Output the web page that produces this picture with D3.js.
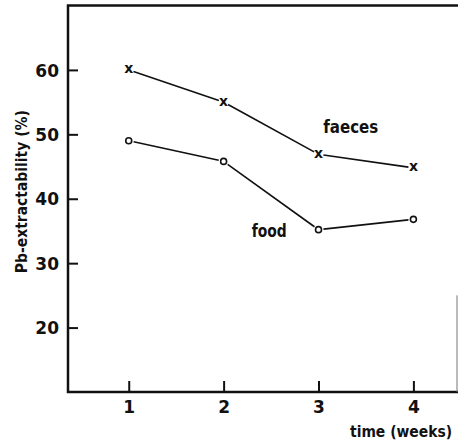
<!DOCTYPE html>
<html>
<head>
<meta charset="utf-8">
<script src="https://cdn.jsdelivr.net/npm/d3@7"></script>
<style>
  body { margin: 0; background: #fff; }
  text { font-family: "DejaVu Sans", sans-serif; font-weight: bold; fill: #111; }
</style>
</head>
<body>
<svg></svg>
<script>
// data
var weeks = [1, 2, 3, 4];
var faeces = [60, 55, 46.9, 44.8];
var food = [49, 45.8, 35.2, 36.8];
var yTicks = [20, 30, 40, 50, 60];
var xTicks = [1, 2, 3, 4];

function drawChart() {
    var svgWidth = 459, svgHeight = 444;
    var svg = d3.select('svg').attr("width", svgWidth).attr("height", svgHeight);

    var x = d3.scaleLinear().domain([0.36, 4.47]).range([68, 458]);
    var y = d3.scaleLinear().domain([10, 70]).range([392, 5.5]);

    // left axis, ticks pointing inward
    var yAxis = svg.append("g")
        .attr("transform", "translate(" + x(0.36) + ",0)")
        .call(d3.axisRight(y).tickValues(yTicks).tickSize(10).tickFormat(d3.format("d")));
    yAxis.select(".domain").remove();
    yAxis.selectAll("line").attr("stroke", "#111").attr("stroke-width", 2);
    yAxis.selectAll("text")
        .attr("x", -9)
        .attr("text-anchor", "end")
        .attr("dy", "0.36em")
        .style("font-size", "17px");

    // bottom axis, ticks pointing up
    var xAxis = svg.append("g")
        .attr("transform", "translate(0," + y(10) + ")")
        .call(d3.axisTop(x).tickValues(xTicks).tickSize(11).tickFormat(d3.format("d")));
    xAxis.select(".domain").remove();
    xAxis.selectAll("line").attr("stroke", "#111").attr("stroke-width", 2);
    xAxis.selectAll("text")
        .attr("y", 21)
        .attr("dy", "0")
        .attr("text-anchor", "middle")
        .style("font-size", "17px");

    // frame
    var x0 = x(0.36), x1 = x(4.47), y0 = y(10), y1 = y(70);
    svg.append("path")
        .attr("d", "M" + x1 + "," + y1 + "H" + x0 + "V" + y0 + "H" + x1)
        .attr("fill", "none")
        .attr("stroke", "#111")
        .attr("stroke-width", 2.5);
    svg.append("line")
        .attr("x1", x1 - 1).attr("x2", x1 - 1)
        .attr("y1", y(25)).attr("y2", y0)
        .attr("stroke", "#777")
        .attr("stroke-width", 1);

    // connecting segments with a gap at each marker
    function segments(vals) {
        var out = [];
        for (var i = 0; i < vals.length - 1; i++) {
            var ax = x(weeks[i]), ay = y(vals[i]);
            var bx = x(weeks[i + 1]), by = y(vals[i + 1]);
            var len = Math.hypot(bx - ax, by - ay);
            var ux = (bx - ax) / len, uy = (by - ay) / len;
            out.push({ x1: ax + ux * 5, y1: ay + uy * 5, x2: bx - ux * 5, y2: by - uy * 5 });
        }
        return out;
    }

    [faeces, food].forEach(function(vals) {
        svg.append("g").selectAll("line")
            .data(segments(vals))
            .join("line")
            .attr("x1", function(d) { return d.x1 })
            .attr("y1", function(d) { return d.y1 })
            .attr("x2", function(d) { return d.x2 })
            .attr("y2", function(d) { return d.y2 })
            .attr("stroke", "#111")
            .attr("stroke-width", 1.6);
    });

    // markers: x for faeces, o for food
    svg.append("g").selectAll("text")
        .data(faeces)
        .join("text")
        .attr("x", function(d, i) { return x(weeks[i]) })
        .attr("y", function(d) { return y(d) })
        .attr("dy", "0.25em")
        .attr("text-anchor", "middle")
        .style("font-size", "14px")
        .text("x");

    svg.append("g").selectAll("circle")
        .data(food)
        .join("circle")
        .attr("cx", function(d, i) { return x(weeks[i]) })
        .attr("cy", function(d) { return y(d) })
        .attr("r", 3)
        .attr("fill", "none")
        .attr("stroke", "#111")
        .attr("stroke-width", 1.6);

    // series labels
    svg.append("text")
        .attr("x", x(3.34)).attr("y", y(50.2))
        .attr("text-anchor", "middle")
        .attr("textLength", 55)
        .attr("lengthAdjust", "spacingAndGlyphs")
        .style("font-size", "17px")
        .text("faeces");
    svg.append("text")
        .attr("x", x(2.48)).attr("y", y(34.0))
        .attr("text-anchor", "middle")
        .attr("textLength", 35)
        .attr("lengthAdjust", "spacingAndGlyphs")
        .style("font-size", "17px")
        .text("food");

    // axis titles
    svg.append("text")
        .attr("transform", "translate(27," + y(41.1) + ") rotate(-90)")
        .attr("text-anchor", "middle")
        .attr("textLength", 163)
        .attr("lengthAdjust", "spacingAndGlyphs")
        .style("font-size", "16px")
        .text("Pb-extractability (%)");
    svg.append("text")
        .attr("x", 452).attr("y", 437)
        .attr("text-anchor", "end")
        .attr("textLength", 102)
        .attr("lengthAdjust", "spacingAndGlyphs")
        .style("font-size", "16px")
        .text("time (weeks)");
}

drawChart();
</script>
</body>
</html>
